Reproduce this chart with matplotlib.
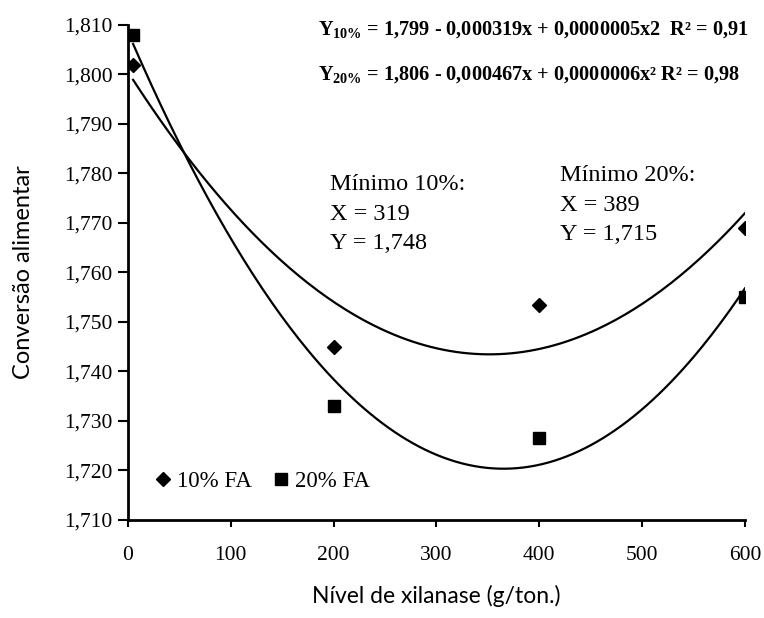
import matplotlib
matplotlib.use('Agg')
import matplotlib.pyplot as plt
import numpy as np

# níveis de xilanase e conversão alimentar
x_levels = [5, 200, 400, 600]
ca_10 = [1.802, 1.745, 1.7535, 1.769]
ca_20 = [1.808, 1.733, 1.7265, 1.755]

y_ticks = [1.710, 1.720, 1.730, 1.740, 1.750, 1.760, 1.770, 1.780, 1.790, 1.800, 1.810]
x_ticks = [0, 100, 200, 300, 400, 500, 600]

plt.rcParams['font.family'] = ['Liberation Serif', 'DejaVu Serif']
plt.rcParams['mathtext.fontset'] = 'custom'
plt.rcParams['mathtext.rm'] = 'Liberation Serif'
plt.rcParams['mathtext.bf'] = 'Liberation Serif:bold'

fig = plt.figure(figsize=(7.64, 6.18), dpi=100)
ax = fig.add_axes([0.1675, 0.1586, 0.8075, 0.801])

# curvas de tendência (polinômio de 2º grau)
xs = np.linspace(x_levels[0], x_levels[-1], 200)
for ys in (ca_10, ca_20):
    coef = np.polyfit(x_levels, ys, 2)
    ax.plot(xs, np.polyval(coef, xs), color='black', lw=1.6)

ax.plot(x_levels, ca_10, 'D', color='black', ms=7, ls='none', label='10% FA')
ax.plot(x_levels, ca_20, 's', color='black', ms=8, ls='none', label='20% FA')

ax.set_xlim(0, 600)
ax.set_ylim(1.710, 1.810)
ax.set_xticks(x_ticks)
ax.set_yticks(y_ticks)
ax.set_yticklabels([('%.3f' % v).replace('.', ',') for v in y_ticks])
ax.tick_params(axis='y', direction='out', length=7, width=1.5, labelsize=15.5, pad=4)
ax.tick_params(axis='x', direction='out', length=5, width=1.5, labelsize=15.5, pad=14)
for side in ('top', 'right'):
    ax.spines[side].set_visible(False)
for side in ('left', 'bottom'):
    ax.spines[side].set_linewidth(2)

ax.set_xlabel('Nível de xilanase (g/ton.)', family='Lato', fontsize=16.5, labelpad=14)
ax.set_ylabel('Conversão alimentar', family='Lato', fontsize=17, labelpad=22)

ax.text(0.308, 0.99, r'Y$_{\mathbf{10\%}}$ = 1,799 - 0,000319x + 0,0000005x2  R² = 0,91',
        transform=ax.transAxes, fontsize=14.6, fontweight='bold', va='center')
ax.text(0.308, 0.899, r'Y$_{\mathbf{20\%}}$ = 1,806 - 0,000467x + 0,0000006x² R² = 0,98',
        transform=ax.transAxes, fontsize=14.6, fontweight='bold', va='center')

ax.text(0.327, 0.618, 'Mínimo 10%:\nX = 319\nY = 1,748', transform=ax.transAxes,
        fontsize=17.5, va='center', linespacing=1.55)
ax.text(0.70, 0.636, 'Mínimo 20%:\nX = 389\nY = 1,715', transform=ax.transAxes,
        fontsize=17.5, va='center', linespacing=1.55)

ax.legend(loc='center left', bbox_to_anchor=(0.023, 0.077), borderaxespad=0, ncol=2,
          frameon=False, fontsize=16.5, handletextpad=0.1, columnspacing=0.8,
          handlelength=1.0)

fig.savefig('out.png', dpi=100)
